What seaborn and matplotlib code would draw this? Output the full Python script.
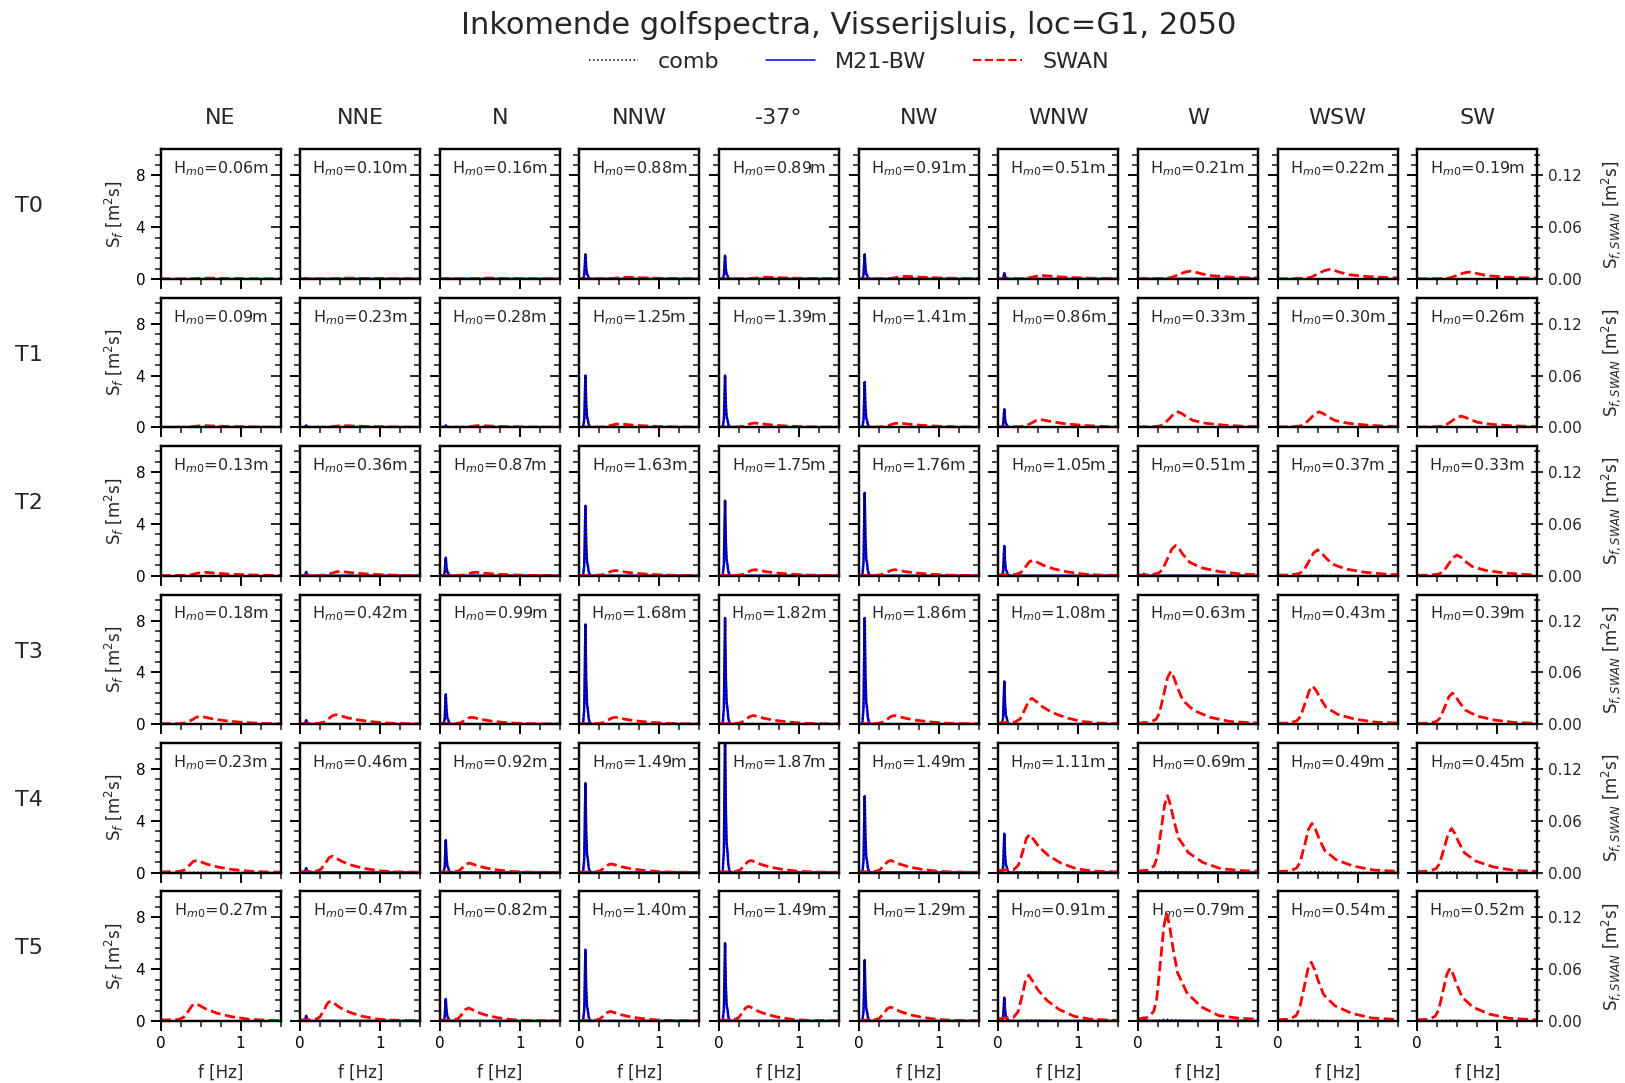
import numpy as np
import pandas as pd
import matplotlib
matplotlib.use("Agg")
import matplotlib.pyplot as plt
from matplotlib.lines import Line2D
from matplotlib.ticker import MultipleLocator, FormatStrFormatter
import seaborn as sns

# ---------------- data ----------------
DIRECTIONS = ["NE", "NNE", "N", "NNW", "-37°", "NW", "WNW", "W", "WSW", "SW"]
CONDITIONS = ["T0", "T1", "T2", "T3", "T4", "T5"]

HM0 = [
    [0.06, 0.10, 0.16, 0.88, 0.89, 0.91, 0.51, 0.21, 0.22, 0.19],
    [0.09, 0.23, 0.28, 1.25, 1.39, 1.41, 0.86, 0.33, 0.30, 0.26],
    [0.13, 0.36, 0.87, 1.63, 1.75, 1.76, 1.05, 0.51, 0.37, 0.33],
    [0.18, 0.42, 0.99, 1.68, 1.82, 1.86, 1.08, 0.63, 0.43, 0.39],
    [0.23, 0.46, 0.92, 1.49, 1.87, 1.49, 1.11, 0.69, 0.49, 0.45],
    [0.27, 0.47, 0.82, 1.40, 1.49, 1.29, 0.91, 0.79, 0.54, 0.52],
]

# peak density of the M21-BW spectrum [m2s]
M21_PEAK = [
    [0.00, 0.05, 0.05, 1.9, 1.8, 1.9, 0.45, 0.05, 0.0, 0.0],
    [0.00, 0.15, 0.15, 4.0, 4.0, 3.5, 1.4, 0.05, 0.0, 0.0],
    [0.00, 0.30, 1.40, 5.4, 5.8, 6.4, 2.3, 0.15, 0.0, 0.0],
    [0.00, 0.30, 2.30, 7.7, 8.2, 8.2, 3.3, 0.15, 0.0, 0.0],
    [0.00, 0.35, 2.50, 6.9, 11.0, 5.9, 3.0, 0.15, 0.0, 0.0],
    [0.00, 0.40, 1.70, 5.5, 6.0, 4.7, 1.8, 0.25, 0.0, 0.0],
]

# peak density of the SWAN spectrum [m2s]
SWAN_PEAK = [
    [0.001, 0.001, 0.001, 0.002, 0.002, 0.003, 0.004, 0.009, 0.011, 0.008],
    [0.002, 0.002, 0.002, 0.004, 0.005, 0.005, 0.009, 0.018, 0.018, 0.013],
    [0.004, 0.005, 0.004, 0.006, 0.007, 0.007, 0.018, 0.035, 0.030, 0.024],
    [0.009, 0.011, 0.008, 0.008, 0.010, 0.010, 0.030, 0.061, 0.044, 0.036],
    [0.014, 0.019, 0.011, 0.010, 0.014, 0.014, 0.044, 0.089, 0.057, 0.051],
    [0.020, 0.023, 0.015, 0.011, 0.017, 0.016, 0.053, 0.125, 0.068, 0.061],
]

# peak frequency of the SWAN spectrum [Hz]
SWAN_FP = [
    [0.60, 0.60, 0.60, 0.60, 0.60, 0.60, 0.55, 0.65, 0.65, 0.65],
    [0.55, 0.55, 0.50, 0.50, 0.45, 0.50, 0.53, 0.50, 0.52, 0.55],
    [0.55, 0.50, 0.45, 0.45, 0.45, 0.45, 0.43, 0.47, 0.50, 0.50],
    [0.50, 0.45, 0.40, 0.45, 0.43, 0.45, 0.42, 0.41, 0.44, 0.44],
    [0.45, 0.40, 0.37, 0.40, 0.40, 0.40, 0.39, 0.37, 0.43, 0.43],
    [0.44, 0.38, 0.36, 0.39, 0.37, 0.40, 0.38, 0.36, 0.42, 0.41],
]

# normalised spectral shapes
M21_SHAPE_F = [0.0, 0.045, 0.06, 0.07, 0.075, 0.085, 0.095, 0.105, 0.115, 0.13, 0.16, 1.5]
M21_SHAPE_V = [0.0, 0.0, 0.15, 0.75, 1.0, 0.45, 0.2, 0.15, 0.06, 0.01, 0.0, 0.0]

SWAN_NARROW_R = [0.0, 0.3, 0.45, 0.55, 0.65, 0.8, 0.9, 1.0, 1.1, 1.2, 1.37, 1.7, 2.2, 2.8, 3.5, 4.5, 6.0]
SWAN_NARROW_V = [0.02, 0.03, 0.06, 0.09, 0.2, 0.6, 0.88, 1.0, 0.88, 0.7, 0.45, 0.26, 0.13, 0.05, 0.025, 0.012, 0.005]
SWAN_BROAD_R = [0.0, 0.5, 0.65, 0.8, 0.9, 1.0, 1.15, 1.3, 1.6, 2.0, 2.5, 3.0, 4.0]
SWAN_BROAD_V = [0.05, 0.08, 0.2, 0.6, 0.9, 1.0, 0.85, 0.68, 0.45, 0.25, 0.1, 0.04, 0.01]
SWAN_SHAPE_KIND = ["broad"] * 7 + ["narrow"] * 3

# ---------------- style ----------------
sns.set_theme(style="white")
plt.rcParams["font.family"] = ["DejaVu Sans"]
plt.rcParams["mathtext.fontset"] = "dejavusans"
plt.rcParams["axes.linewidth"] = 1.6
plt.rcParams["axes.edgecolor"] = "black"

nrow, ncol = len(CONDITIONS), len(DIRECTIONS)
LEFT, RIGHT = 0.0988, 0.946
XC = (LEFT + RIGHT) / 2
fig, axes = plt.subplots(nrow, ncol, figsize=(16.25, 10.83), dpi=100, sharex=True)
fig.subplots_adjust(left=LEFT, right=RIGHT, top=0.862, bottom=0.0573,
                    wspace=0.163, hspace=0.146)

for i in range(nrow):
    for j in range(ncol):
        ax = axes[i, j]
        # M21-BW spectrum (left axis)
        f_m = np.array(M21_SHAPE_F)
        s_m = M21_PEAK[i][j] * np.array(M21_SHAPE_V)
        # SWAN spectrum (right axis)
        if SWAN_SHAPE_KIND[j] == "broad":
            r, v = np.array(SWAN_BROAD_R), np.array(SWAN_BROAD_V)
        else:
            r, v = np.array(SWAN_NARROW_R), np.array(SWAN_NARROW_V)
        f_s = r * SWAN_FP[i][j]
        s_s = SWAN_PEAK[i][j] * v
        # combined spectrum on common grid
        f_c = np.unique(np.concatenate([f_m, f_s]))
        s_c = np.interp(f_c, f_m, s_m) + np.interp(f_c, f_s, s_s)

        df_m = pd.DataFrame({"f": f_m, "S": s_m})
        df_c = pd.DataFrame({"f": f_c, "S": s_c})
        df_s = pd.DataFrame({"f": f_s, "S": s_s})

        sns.lineplot(data=df_m, x="f", y="S", ax=ax, color="blue", lw=1.8,
                     estimator=None, sort=False)
        sns.lineplot(data=df_c, x="f", y="S", ax=ax, color="black", lw=1.1,
                     linestyle=":", estimator=None, sort=False)
        ax.set_xlim(0, 1.5)
        ax.set_ylim(0, 10)
        ax.xaxis.set_major_locator(MultipleLocator(1))
        ax.xaxis.set_minor_locator(MultipleLocator(0.25))
        ax.yaxis.set_major_locator(MultipleLocator(4))
        ax.yaxis.set_minor_locator(MultipleLocator(0.8))
        ax.tick_params(axis="both", which="major", direction="out", length=7,
                       width=1.4, labelsize=11, colors="black", pad=4,
                       left=True, bottom=True)
        ax.tick_params(axis="both", which="minor", direction="out", length=4,
                       width=1.2, left=True, bottom=True)
        ax.set_xlabel("")
        ax.set_ylabel("")
        if j != 0:
            ax.tick_params(axis="y", labelleft=False)
        else:
            ax.set_ylabel(r"S$_f$ [m$^2$s]", fontsize=12, labelpad=7)
        if i == nrow - 1:
            ax.set_xlabel("f [Hz]", fontsize=12, labelpad=9)
        else:
            ax.tick_params(axis="x", labelbottom=False)

        ax2 = ax.twinx()
        sns.lineplot(data=df_s, x="f", y="S", ax=ax2, color="red", lw=2.0,
                     linestyle="--", estimator=None, sort=False)
        ax2.set_ylim(0, 0.15)
        ax2.set_xlim(0, 1.5)
        ax2.yaxis.set_major_locator(MultipleLocator(0.06))
        ax2.yaxis.set_minor_locator(MultipleLocator(0.012))
        last = (j == ncol - 1)
        ax2.tick_params(axis="y", which="major", direction="inout" if last else "in",
                        length=8 if last else 7, width=1.4, labelsize=11,
                        right=True, labelright=last)
        ax2.tick_params(axis="y", which="minor", direction="inout" if last else "in",
                        length=5 if last else 4, width=1.2, right=True)
        ax2.set_ylabel(r"S$_{f,SWAN}$ [m$^2$s]" if last else "", fontsize=12, labelpad=13)
        ax2.yaxis.set_major_formatter(FormatStrFormatter("%.2f"))

        ax.text(0.5, 0.85, r"H$_{m0}$=%.2fm" % HM0[i][j], transform=ax.transAxes,
                ha="center", va="center", fontsize=11.5)

        if i == 0:
            ax.set_title(DIRECTIONS[j], fontsize=16, pad=18)
    # row label
    pos = axes[i, 0].get_position()
    fig.text(0.018, pos.y0 + 0.56 * pos.height, CONDITIONS[i], fontsize=16,
             ha="center", va="center")

fig.suptitle("Inkomende golfspectra, Visserijsluis, loc=G1, 2050", fontsize=22,
             x=XC, y=0.99)
handles = [Line2D([], [], color="black", ls=":", lw=1.1),
           Line2D([], [], color="blue", lw=1.1),
           Line2D([], [], color="red", ls="--", lw=1.6)]
fig.legend(handles, ["comb", "M21-BW", "SWAN"], loc="center", ncol=3,
           bbox_to_anchor=(XC, 0.943), frameon=False, fontsize=16,
           handlelength=2.2, handletextpad=0.9, columnspacing=2.1)

fig.savefig("out.png", dpi=100)
